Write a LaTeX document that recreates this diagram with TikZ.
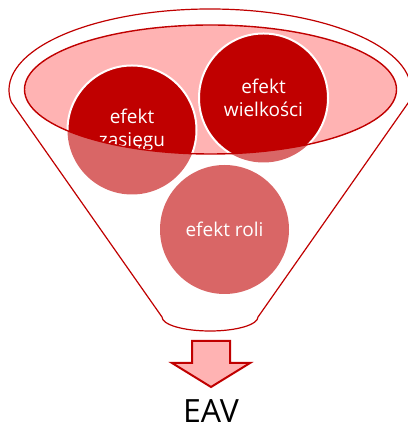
\documentclass[tikz,border=0pt]{standalone}
\usepackage{fontspec}
\setmainfont{Open Sans}
\definecolor{dred}{HTML}{C00000}
\definecolor{lred}{HTML}{D96666}
\definecolor{pinkf}{HTML}{FFB3B3}
\begin{document}
\begin{tikzpicture}[x=1pt,y=1pt,
  lightc/.style={circle, fill=lred, minimum size=129pt, inner sep=0pt, text=white,
    font=\fontsize{19}{23}\selectfont, align=center},
  darkc/.style={lightc, fill=dred, draw=white, line width=2pt},
  rim/.style={draw=dred, line width=1.2pt},
  pinkell/.style={x radius=186pt, y radius=64.5pt}]
\useasboundingbox (0,0) rectangle (407,430);
% funnel outline
\draw[rim] (411,340) arc[start angle=0, end angle=188.5, x radius=201pt, y radius=81pt]
  -- (162,113) arc[start angle=180, end angle=360, x radius=48pt, y radius=14pt]
  -- (408.8,328) arc[start angle=-8.5, end angle=0, x radius=201pt, y radius=81pt] -- cycle;
% light circles (below the rim)
\node[lightc] (zasL) at (132,300) {};
\node[lightc] (wielL) at (263.5,332) {};
\node[lightc] (roli) at (224.5,200.5) {efekt roli};
% pink rim ellipse
\coordinate (ec) at (210.5,340.5);
\fill[pinkf] (ec) ellipse[pinkell];
\begin{scope}
  \clip (ec) ellipse[pinkell];
  \node[darkc] (zas) at (132,300) {efekt\\zasięgu};
  \node[darkc] (wiel) at (263.5,332) {efekt\\wielkości};
\end{scope}
\draw[dred, line width=1.4pt] (ec) ellipse[pinkell];
% arrow
\draw[dred, fill=pinkf, line width=2pt, line join=miter]
  (192,89) -- (230,89) -- (230,67) -- (250,67) -- (211,43) -- (172,67) -- (192,67) -- cycle;
\node[anchor=base, inner sep=0pt, font=\fontsize{32}{38}\selectfont] (eav) at (211,7.5) {EAV};
\end{tikzpicture}
\end{document}
